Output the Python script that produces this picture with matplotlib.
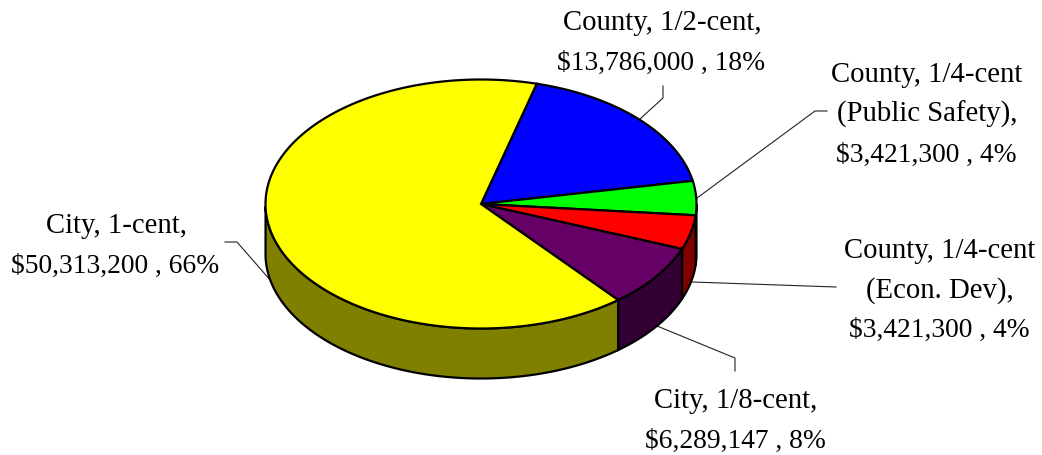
import numpy as np
import matplotlib
matplotlib.use('Agg')
import matplotlib.pyplot as plt

plt.rcParams['font.family'] = ['Liberation Serif', 'DejaVu Serif']

names = ['City, 1-cent,', 'County, 1/2-cent,', 'County, 1/4-cent\n(Public Safety),',
         'County, 1/4-cent\n(Econ. Dev),', 'City, 1/8-cent,']
values = [50313200, 13786000, 3421300, 3421300, 6289147]
percents = [66, 18, 4, 4, 8]
top_colors = ['#FFFF00', '#0000FF', '#00FF00', '#FF0000', '#660066']
side_colors = ['#808000', '#000080', '#000000', '#800000', '#330033']

# pie geometry, in pixels of the picture
cx, cy = 481, 205
rx, ry = 215.5, 124.5
depth = 50
start_angle = 75

# label text centre and leader line points
label_pos = [(116, 245), (662, 42), (927, 114), (940, 289.5), (736, 420)]
line_gap = 39.5
leaders = [[(225, 243), (237, 243), (271, 282)],
           [(663, 87), (663, 99), (640, 120)],
           [(827, 112), (815, 112), (697, 199)],
           [(836, 288), (692, 283)],
           [(735, 372), (735, 359), (657, 327)]]


def ell(a):
    return cx + rx*np.cos(a), cy - ry*np.sin(a)


fig = plt.figure(figsize=(10.42, 4.56), dpi=100)
ax = fig.add_axes([0, 0, 1, 1])
ax.set_xlim(0, 1042)
ax.set_ylim(456, 0)
ax.axis('off')

fracs = np.array(values) / sum(values)
angle = np.deg2rad(start_angle)
wedges = []
for i in [1, 2, 3, 4, 0]:
    sweep = fracs[i]*2*np.pi
    wedges.append((i, angle - sweep, angle))
    angle -= sweep

# side walls first
for i, a0, a1 in wedges:
    a = np.linspace(a0, a1, 200)
    a = a[np.sin(a) <= 0]
    if len(a) < 2:
        continue
    x, y = ell(a)
    ax.fill(np.r_[x, x[::-1]], np.r_[y, y[::-1] + depth],
            fc=side_colors[i], ec='black', lw=1.6, zorder=2)

# top faces
for i, a0, a1 in wedges:
    a = np.linspace(a0, a1, 200)
    x, y = ell(a)
    ax.fill(np.r_[cx, x], np.r_[cy, y], fc=top_colors[i], ec='black', lw=1.6, zorder=3)

for i, name in enumerate(names):
    money = f"${values[i]:,} , {percents[i]}%"
    lines = name.split('\n')
    n = len(lines) + 1
    y0 = label_pos[i][1] - line_gap*(n - 1)/2 + 8
    # the name lines run a bit wider than the money line in the original
    for j, t in enumerate(lines):
        ax.text(label_pos[i][0], y0 + j*line_gap, t, ha='center', va='baseline',
                fontsize=20.7, color='black', zorder=5)
    ax.text(label_pos[i][0] - 1, y0 + (n - 1)*line_gap, money, ha='center', va='baseline',
            fontsize=19.8, color='black', zorder=5)
    pts = np.array(leaders[i])
    ax.plot(pts[:, 0], pts[:, 1], color='#222222', lw=0.8, zorder=1)

fig.savefig('out.png', dpi=100)
